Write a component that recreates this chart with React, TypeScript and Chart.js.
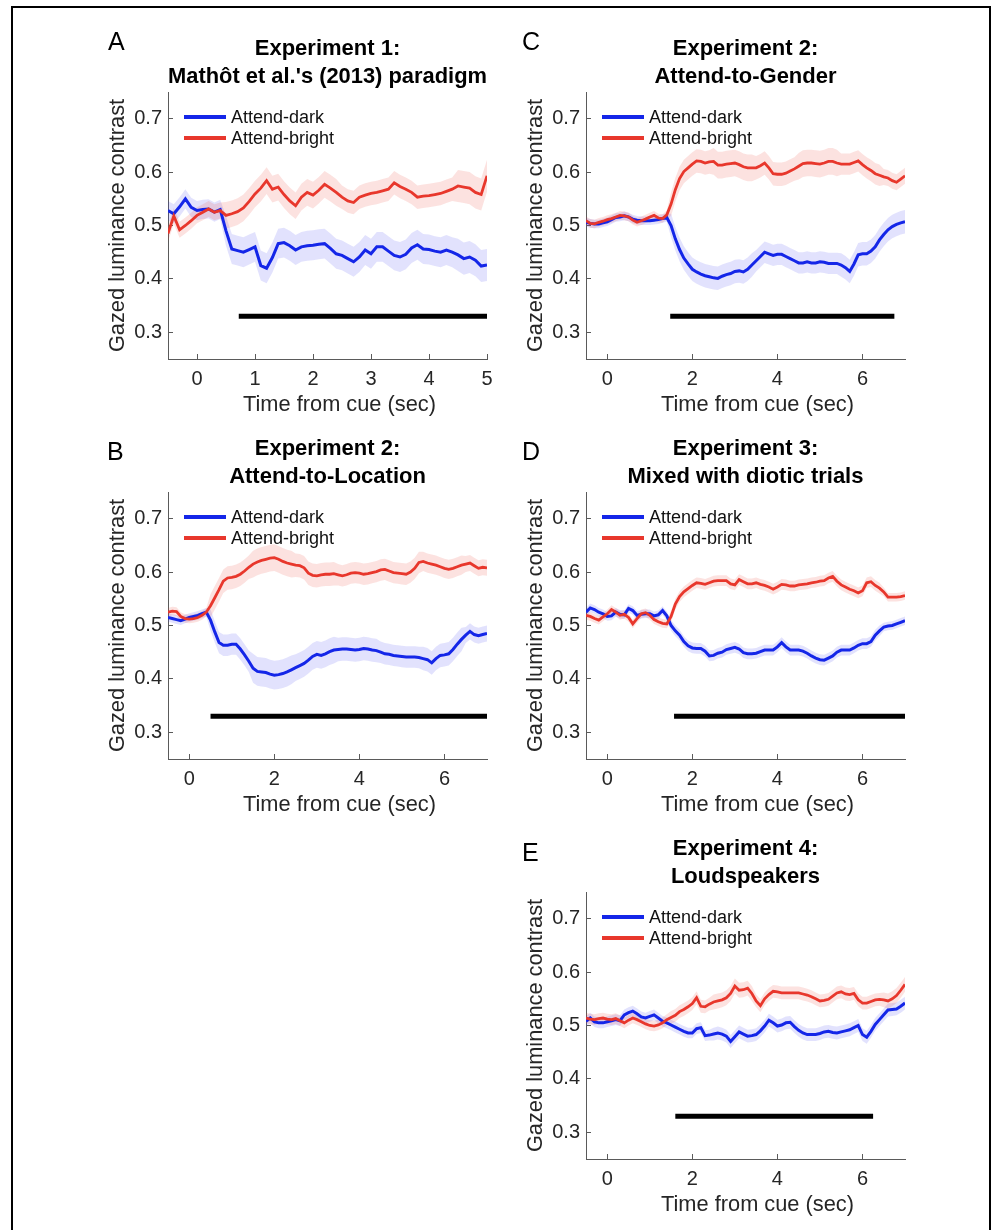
import React, { useEffect, useRef } from 'react';
import { Chart, registerables } from 'chart.js';

Chart.register(...registerables);

const FONT = '"Liberation Sans", Arial, Helvetica, sans-serif';

// ---------- data ----------
const TIME_START = -0.5;
const TIME_STEP = 0.1;
const Y_TICKS = [0.3, 0.4, 0.5, 0.6, 0.7];
const X_TICKS_EXP1 = [0, 1, 2, 3, 4, 5];
const X_TICKS_OTHER = [0, 2, 4, 6];
const SIG_LEVEL = 0.33;
const LEGEND_LABELS = ['Attend-dark', 'Attend-bright'];
const X_LABEL = 'Time from cue (sec)';
const Y_LABEL = 'Gazed luminance contrast';

// Panel A: Experiment 1
const A_DARK = [0.528, 0.522, 0.535, 0.550, 0.534, 0.528, 0.530, 0.531, 0.525, 0.530,
  0.490, 0.456, 0.453, 0.450, 0.455, 0.460, 0.425, 0.420, 0.440, 0.466,
  0.468, 0.462, 0.454, 0.460, 0.462, 0.463, 0.465, 0.466, 0.457, 0.447,
  0.444, 0.438, 0.432, 0.441, 0.454, 0.447, 0.460, 0.460, 0.452, 0.444,
  0.441, 0.446, 0.458, 0.464, 0.456, 0.455, 0.452, 0.450, 0.454, 0.450,
  0.445, 0.438, 0.441, 0.435, 0.424, 0.426];
const A_BRIGHT = [0.485, 0.518, 0.492, 0.500, 0.509, 0.519, 0.525, 0.531, 0.525, 0.528,
  0.519, 0.522, 0.526, 0.533, 0.545, 0.559, 0.570, 0.584, 0.568, 0.572,
  0.558, 0.546, 0.537, 0.553, 0.562, 0.557, 0.566, 0.577, 0.570, 0.562,
  0.553, 0.546, 0.543, 0.553, 0.557, 0.560, 0.562, 0.565, 0.568, 0.580,
  0.573, 0.568, 0.562, 0.553, 0.555, 0.556, 0.558, 0.560, 0.564, 0.568,
  0.574, 0.572, 0.570, 0.562, 0.558, 0.593];
const A_DARK_SEM = [0.018, 0.028, 0.028, 0.028, 0.028, 0.030];
const A_BRIGHT_SEM = [0.015, 0.025, 0.025, 0.022, 0.022, 0.030];
const A_SIG = [0.72, 5.0];

// Panel B: Experiment 2, Attend-to-Location
const B_DARK = [0.515, 0.513, 0.511, 0.509, 0.512, 0.515, 0.517, 0.519, 0.522, 0.525,
  0.510, 0.488, 0.468, 0.463, 0.463, 0.465, 0.465, 0.456, 0.445, 0.433,
  0.420, 0.414, 0.413, 0.412, 0.409, 0.407, 0.408, 0.410, 0.413, 0.417,
  0.421, 0.425, 0.429, 0.435, 0.442, 0.446, 0.444, 0.447, 0.451, 0.454,
  0.455, 0.456, 0.456, 0.455, 0.454, 0.455, 0.457, 0.456, 0.454, 0.453,
  0.450, 0.447, 0.446, 0.444, 0.443, 0.442, 0.441, 0.441, 0.441, 0.440,
  0.438, 0.436, 0.430, 0.438, 0.444, 0.445, 0.447, 0.455, 0.465, 0.474,
  0.482, 0.489, 0.483, 0.481, 0.483, 0.485];
const B_BRIGHT = [0.525, 0.527, 0.526, 0.517, 0.513, 0.512, 0.513, 0.515, 0.519, 0.525,
  0.537, 0.552, 0.567, 0.583, 0.589, 0.590, 0.592, 0.596, 0.602, 0.609,
  0.615, 0.619, 0.622, 0.624, 0.626, 0.627, 0.624, 0.620, 0.617, 0.615,
  0.613, 0.612, 0.608, 0.598, 0.594, 0.593, 0.595, 0.596, 0.596, 0.597,
  0.595, 0.593, 0.595, 0.598, 0.599, 0.598, 0.596, 0.597, 0.599, 0.601,
  0.604, 0.605, 0.602, 0.599, 0.598, 0.597, 0.596, 0.600, 0.607, 0.618,
  0.620, 0.617, 0.615, 0.613, 0.610, 0.607, 0.605, 0.607, 0.610, 0.613,
  0.615, 0.617, 0.612, 0.607, 0.609, 0.608];
const B_DARK_SEM = [0.008, 0.020, 0.027, 0.025, 0.022, 0.020, 0.022, 0.015];
const B_BRIGHT_SEM = [0.008, 0.022, 0.025, 0.022, 0.020, 0.020, 0.018, 0.015];
const B_SIG = [0.5, 7.0];

// Panel C: Experiment 2, Attend-to-Gender
const C_DARK = [0.506, 0.504, 0.503, 0.503, 0.505, 0.507, 0.511, 0.515, 0.516, 0.518,
  0.516, 0.512, 0.510, 0.509, 0.509, 0.509, 0.510, 0.511, 0.513, 0.515,
  0.500, 0.475, 0.455, 0.439, 0.428, 0.418, 0.413, 0.409, 0.406, 0.404,
  0.402, 0.401, 0.405, 0.408, 0.410, 0.414, 0.415, 0.413, 0.418, 0.426,
  0.434, 0.442, 0.450, 0.447, 0.444, 0.446, 0.446, 0.442, 0.438, 0.434,
  0.430, 0.430, 0.432, 0.430, 0.430, 0.432, 0.431, 0.429, 0.429, 0.429,
  0.426, 0.421, 0.414, 0.428, 0.445, 0.447, 0.447, 0.452, 0.460, 0.473,
  0.483, 0.492, 0.498, 0.502, 0.505, 0.507];
const C_BRIGHT = [0.509, 0.504, 0.503, 0.506, 0.508, 0.511, 0.513, 0.516, 0.519, 0.518,
  0.516, 0.510, 0.506, 0.509, 0.512, 0.516, 0.519, 0.514, 0.513, 0.520,
  0.540, 0.567, 0.588, 0.601, 0.608, 0.615, 0.621, 0.620, 0.617, 0.619,
  0.620, 0.613, 0.613, 0.615, 0.616, 0.617, 0.614, 0.610, 0.608, 0.608,
  0.608, 0.612, 0.617, 0.608, 0.597, 0.596, 0.596, 0.598, 0.602, 0.606,
  0.611, 0.616, 0.617, 0.617, 0.616, 0.615, 0.617, 0.620, 0.620, 0.617,
  0.615, 0.615, 0.615, 0.618, 0.621, 0.614, 0.608, 0.603, 0.597, 0.594,
  0.591, 0.589, 0.584, 0.581, 0.587, 0.593];
const C_DARK_SEM = [0.008, 0.008, 0.022, 0.022, 0.020, 0.020, 0.022, 0.022];
const C_BRIGHT_SEM = [0.008, 0.008, 0.022, 0.025, 0.022, 0.025, 0.020, 0.015];
const C_SIG = [1.48, 6.75];

// Panel D: Experiment 3
const D_DARK = [0.525, 0.533, 0.530, 0.525, 0.522, 0.517, 0.518, 0.525, 0.521, 0.520,
  0.532, 0.528, 0.519, 0.521, 0.522, 0.522, 0.518, 0.520, 0.528, 0.518,
  0.500, 0.490, 0.482, 0.470, 0.462, 0.458, 0.457, 0.457, 0.452, 0.443,
  0.444, 0.448, 0.450, 0.455, 0.457, 0.459, 0.456, 0.449, 0.447, 0.447,
  0.448, 0.451, 0.454, 0.454, 0.454, 0.460, 0.468, 0.460, 0.454, 0.454,
  0.454, 0.452, 0.448, 0.443, 0.439, 0.436, 0.435, 0.439, 0.443, 0.450,
  0.454, 0.454, 0.454, 0.458, 0.463, 0.466, 0.466, 0.470, 0.482, 0.490,
  0.497, 0.499, 0.500, 0.503, 0.506, 0.509];
const D_BRIGHT = [0.519, 0.517, 0.513, 0.510, 0.516, 0.522, 0.530, 0.525, 0.519, 0.521,
  0.515, 0.503, 0.513, 0.522, 0.524, 0.519, 0.511, 0.507, 0.504, 0.503,
  0.517, 0.540, 0.554, 0.563, 0.569, 0.575, 0.580, 0.579, 0.577, 0.580,
  0.583, 0.584, 0.584, 0.584, 0.578, 0.576, 0.586, 0.582, 0.578, 0.578,
  0.580, 0.577, 0.575, 0.572, 0.568, 0.572, 0.577, 0.576, 0.574, 0.574,
  0.576, 0.577, 0.578, 0.580, 0.581, 0.583, 0.584, 0.589, 0.592, 0.583,
  0.576, 0.572, 0.568, 0.565, 0.561, 0.565, 0.580, 0.582, 0.575, 0.570,
  0.563, 0.553, 0.553, 0.553, 0.554, 0.556];
const D_DARK_SEM = [0.008, 0.008, 0.010, 0.010, 0.010, 0.010, 0.010, 0.008];
const D_BRIGHT_SEM = [0.008, 0.008, 0.010, 0.010, 0.010, 0.010, 0.010, 0.008];
const D_SIG = [1.57, 7.0];

// Panel E: Experiment 4
const E_DARK = [0.508, 0.514, 0.507, 0.505, 0.505, 0.507, 0.509, 0.511, 0.509, 0.520,
  0.524, 0.527, 0.522, 0.516, 0.514, 0.517, 0.520, 0.514, 0.508, 0.505,
  0.501, 0.497, 0.493, 0.489, 0.486, 0.486, 0.494, 0.496, 0.481, 0.482,
  0.484, 0.486, 0.484, 0.480, 0.470, 0.479, 0.488, 0.484, 0.480, 0.481,
  0.483, 0.490, 0.499, 0.510, 0.505, 0.499, 0.501, 0.505, 0.506, 0.498,
  0.491, 0.486, 0.483, 0.483, 0.483, 0.485, 0.488, 0.489, 0.487, 0.486,
  0.488, 0.490, 0.492, 0.496, 0.500, 0.483, 0.478, 0.489, 0.502, 0.511,
  0.520, 0.529, 0.530, 0.531, 0.536, 0.542];
const E_BRIGHT = [0.514, 0.512, 0.511, 0.513, 0.514, 0.512, 0.511, 0.513, 0.509, 0.505,
  0.510, 0.514, 0.511, 0.507, 0.503, 0.500, 0.499, 0.501, 0.505, 0.511,
  0.515, 0.519, 0.526, 0.530, 0.535, 0.541, 0.552, 0.536, 0.535, 0.540,
  0.544, 0.546, 0.548, 0.552, 0.560, 0.574, 0.566, 0.567, 0.570, 0.560,
  0.546, 0.537, 0.550, 0.558, 0.564, 0.563, 0.561, 0.561, 0.561, 0.561,
  0.561, 0.559, 0.557, 0.554, 0.550, 0.546, 0.547, 0.549, 0.555, 0.561,
  0.563, 0.559, 0.558, 0.560, 0.548, 0.542, 0.542, 0.545, 0.548, 0.549,
  0.548, 0.546, 0.550, 0.556, 0.566, 0.577];
const E_DARK_SEM = [0.010, 0.010, 0.010, 0.012, 0.012, 0.012, 0.012, 0.012];
const E_BRIGHT_SEM = [0.010, 0.010, 0.012, 0.014, 0.012, 0.012, 0.012, 0.014];
const E_SIG = [1.6, 6.25];

// ---------- styles ----------
const BLUE = '#1426e8';
const RED = '#e8372c';
const BLUE_BAND = 'rgba(60,60,240,0.15)';
const RED_BAND = 'rgba(235,60,50,0.15)';
const AXIS_COLOR = '#5a5a5a';
const TEXT_COLOR = '#262626';

type PanelSpec = {
  letter: string;
  title: string[];
  dark: number[];
  bright: number[];
  darkSem: number[];
  brightSem: number[];
  sig: number[];
  xMax: number;
  xTicks: number[];
  left: number;
  top: number;
  letterLeft: number;
  letterTop: number;
};

const PANELS: PanelSpec[] = [
  { letter: 'A', title: ['Experiment 1:', "Mathôt et al.'s (2013) paradigm"], dark: A_DARK, bright: A_BRIGHT, darkSem: A_DARK_SEM, brightSem: A_BRIGHT_SEM, sig: A_SIG, xMax: 5, xTicks: X_TICKS_EXP1, left: 90, top: 0, letterLeft: 108, letterTop: 29 },
  { letter: 'B', title: ['Experiment 2:', 'Attend-to-Location'], dark: B_DARK, bright: B_BRIGHT, darkSem: B_DARK_SEM, brightSem: B_BRIGHT_SEM, sig: B_SIG, xMax: 7, xTicks: X_TICKS_OTHER, left: 90, top: 400, letterLeft: 107, letterTop: 439 },
  { letter: 'C', title: ['Experiment 2:', 'Attend-to-Gender'], dark: C_DARK, bright: C_BRIGHT, darkSem: C_DARK_SEM, brightSem: C_BRIGHT_SEM, sig: C_SIG, xMax: 7, xTicks: X_TICKS_OTHER, left: 508, top: 0, letterLeft: 522, letterTop: 29 },
  { letter: 'D', title: ['Experiment 3:', 'Mixed with diotic trials'], dark: D_DARK, bright: D_BRIGHT, darkSem: D_DARK_SEM, brightSem: D_BRIGHT_SEM, sig: D_SIG, xMax: 7, xTicks: X_TICKS_OTHER, left: 508, top: 400, letterLeft: 522, letterTop: 439 },
  { letter: 'E', title: ['Experiment 4:', 'Loudspeakers'], dark: E_DARK, bright: E_BRIGHT, darkSem: E_DARK_SEM, brightSem: E_BRIGHT_SEM, sig: E_SIG, xMax: 7, xTicks: X_TICKS_OTHER, left: 508, top: 800, letterLeft: 522, letterTop: 840 },
];

const CANVAS_W = 420;
const CANVAS_H = 420;

const legendPlugin = {
  id: 'panelLegend',
  afterDraw(chart: any) {
    const { ctx, chartArea } = chart;
    const colors = [BLUE, RED];
    ctx.save();
    LEGEND_LABELS.forEach((label, k) => {
      const y = chartArea.top + 25 + k * 21;
      ctx.strokeStyle = colors[k];
      ctx.lineWidth = 4;
      ctx.lineCap = 'butt';
      ctx.beginPath();
      ctx.moveTo(chartArea.left + 16, y);
      ctx.lineTo(chartArea.left + 58, y);
      ctx.stroke();
      ctx.fillStyle = '#111';
      ctx.font = `18px ${FONT}`;
      ctx.textBaseline = 'middle';
      ctx.textAlign = 'left';
      ctx.fillText(label, chartArea.left + 63, y + 1);
    });
    // x-axis label (slightly right of the axis centre, as in the reference)
    ctx.fillStyle = TEXT_COLOR;
    ctx.font = `21.8px ${FONT}`;
    ctx.textAlign = 'center';
    ctx.textBaseline = 'middle';
    ctx.fillText(X_LABEL, (chartArea.left + chartArea.right) / 2 + 12, chartArea.bottom + 46);
    ctx.restore();
  },
};

function Panel({ spec }: { spec: PanelSpec }) {
  const ref = useRef<HTMLCanvasElement>(null);
  useEffect(() => {
    if (!ref.current) return;
    const times = spec.dark.map((_, i) => Math.round((TIME_START + i * TIME_STEP) * 10) / 10);
    const semAt = (sem: number[], t: number) =>
      sem[Math.min(sem.length - 1, Math.max(0, Math.floor(t - TIME_START + 1e-9)))];
    const pts = (vals: number[]) => vals.map((y, i) => ({ x: times[i], y }));
    const band = (vals: number[], sem: number[], sign: number) =>
      vals.map((y, i) => ({ x: times[i], y: y + sign * semAt(sem, times[i]) }));
    const noLine = { borderColor: 'transparent', borderWidth: 0, pointRadius: 0 };

    const chart = new Chart(ref.current, {
      type: 'line',
      data: {
        datasets: [
          { label: 'dark-upper', data: band(spec.dark, spec.darkSem, 1), fill: '+1', backgroundColor: BLUE_BAND, order: 5, ...noLine },
          { label: 'dark-lower', data: band(spec.dark, spec.darkSem, -1), fill: false, order: 6, ...noLine },
          { label: 'bright-upper', data: band(spec.bright, spec.brightSem, 1), fill: '+1', backgroundColor: RED_BAND, order: 3, ...noLine },
          { label: 'bright-lower', data: band(spec.bright, spec.brightSem, -1), fill: false, order: 4, ...noLine },
          { label: LEGEND_LABELS[0], data: pts(spec.dark), borderColor: BLUE, borderWidth: 3, pointRadius: 0, fill: false, order: 2 },
          { label: LEGEND_LABELS[1], data: pts(spec.bright), borderColor: RED, borderWidth: 2.8, pointRadius: 0, fill: false, order: 1 },
          { label: 'significant', data: [{ x: spec.sig[0], y: SIG_LEVEL }, { x: spec.sig[1], y: SIG_LEVEL }], borderColor: '#000', borderWidth: 5, borderCapStyle: 'butt', pointRadius: 0, fill: false, order: 0 },
        ] as any,
      },
      options: {
        responsive: false,
        animation: false,
        devicePixelRatio: 1,
        layout: { padding: { left: 15, top: 35, right: 23, bottom: 2 } },
        plugins: {
          legend: { display: false },
          tooltip: { enabled: false },
          title: {
            display: true,
            text: spec.title,
            fullSize: false,
            color: '#000',
            font: { family: FONT, size: 22, weight: 'bold', lineHeight: 28 / 22 },
            padding: { top: 0, bottom: 1 },
          },
        },
        scales: {
          x: {
            type: 'linear',
            min: TIME_START,
            max: spec.xMax,
            afterBuildTicks: (axis: any) => { axis.ticks = spec.xTicks.map((value) => ({ value })); },
            afterFit: (axis: any) => { axis.height = 59; },
            ticks: { autoSkip: false, maxRotation: 0, padding: 13, color: TEXT_COLOR, font: { family: FONT, size: 20 }, callback: (v: any) => String(v) },
            grid: { drawOnChartArea: false, drawTicks: true, tickLength: -5, color: AXIS_COLOR },
            border: { color: AXIS_COLOR, width: 1 },
            title: { display: false },
          },
          y: {
            type: 'linear',
            min: 0.25,
            max: 0.75,
            afterBuildTicks: (axis: any) => { axis.ticks = Y_TICKS.map((value) => ({ value })); },
            afterFit: (axis: any) => { axis.width = 63; },
            ticks: { autoSkip: false, padding: 11, color: TEXT_COLOR, font: { family: FONT, size: 20 }, callback: (v: any) => Number(v).toFixed(1) },
            grid: { drawOnChartArea: false, drawTicks: true, tickLength: -5, color: AXIS_COLOR },
            border: { color: AXIS_COLOR, width: 1 },
            title: { display: true, text: Y_LABEL, color: TEXT_COLOR, padding: 0, font: { family: FONT, size: 21.8 } },
          },
        },
      } as any,
      plugins: [legendPlugin],
    });
    return () => chart.destroy();
  }, [spec]);

  return (
    <>
      <canvas
        ref={ref}
        width={CANVAS_W}
        height={CANVAS_H}
        style={{ position: 'absolute', left: spec.left, top: spec.top, width: CANVAS_W, height: CANVAS_H }}
      />
      <div
        style={{ position: 'absolute', left: spec.letterLeft, top: spec.letterTop, fontSize: 25, lineHeight: '25px', fontFamily: FONT, color: '#000' }}
      >
        {spec.letter}
      </div>
    </>
  );
}

export default function App() {
  return (
    <div style={{ position: 'absolute', left: 0, top: 0, width: 1003, height: 1230, overflow: 'hidden', background: '#fff', fontFamily: FONT }}>
      <div
        style={{ position: 'absolute', left: 11, top: 6, width: 980, height: 1260, boxSizing: 'border-box', borderLeft: '2px solid #000', borderTop: '2px solid #000', borderRight: '2px solid #000' }}
      />
      {PANELS.map((p) => (
        <Panel key={p.letter} spec={p} />
      ))}
    </div>
  );
}
